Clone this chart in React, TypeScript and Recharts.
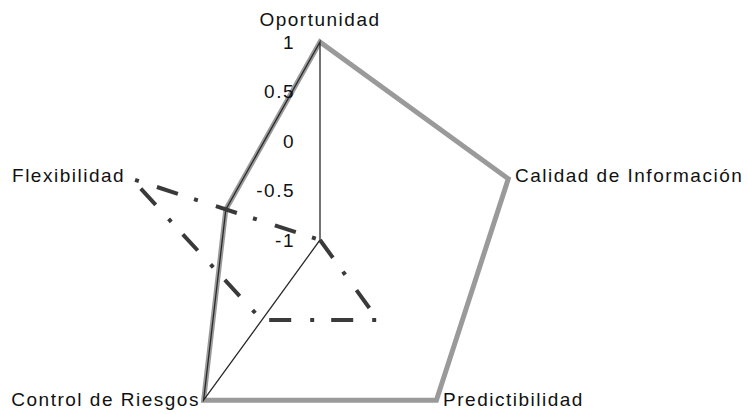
import { RadarChart, Radar, PolarAngleAxis, PolarRadiusAxis } from "recharts";

const categories = ["Oportunidad", "Calidad de Información", "Predictibilidad", "Control de Riesgos", "Flexibilidad"];
const serieBanda = [1, 1, 1, 1, 0];
const serieLinea = [1, -1, -1, 1, 0];
const serieTrazos = [-1, -1, 0, 0, 1];
const radiusTicks = [-1, -0.5, 0, 0.5, 1];

const data = categories.map((subject, i) => ({
  subject,
  banda: serieBanda[i],
  linea: serieLinea[i],
  trazos: serieTrazos[i],
}));

const FONT = "'Liberation Sans', Arial, sans-serif";

// label offsets per category, tuned against the printout
const angleOffsets = [
  { dx: 0, dy: -15 },
  { dx: -1, dy: -1 },
  { dx: 2, dy: -7 },
  { dx: 1, dy: -7 },
  { dx: 1, dy: -1 },
];

function AngleTick(props: any) {
  const { x, y, payload, textAnchor } = props;
  const off = angleOffsets[payload.index] || { dx: 0, dy: 0 };
  return (
    <text
      x={x + off.dx}
      y={y + off.dy}
      textAnchor={textAnchor}
      dominantBaseline="central"
      fontFamily={FONT}
      fontSize={19}
      letterSpacing={1.5}
      fill="#111"
    >
      {payload.value}
    </text>
  );
}

function RadiusTick(props: any) {
  const { x, y, payload } = props;
  return (
    <text
      x={x - 25}
      y={y}
      textAnchor="end"
      dominantBaseline="central"
      fontFamily={FONT}
      fontSize={19}
      letterSpacing={1.5}
      fill="#111"
    >
      {payload.value}
    </text>
  );
}

export default function App() {
  return (
    <div style={{ position: "absolute", left: 0, top: 0, width: 748, height: 414, background: "#fff" }}>
      <RadarChart
        width={748}
        height={414}
        data={data}
        cx={320}
        cy={240}
        outerRadius={198}
        margin={{ top: 0, right: 0, bottom: 0, left: 0 }}
      >
        <PolarAngleAxis dataKey="subject" tick={AngleTick} axisLine={false} tickLine={false} />
        <PolarRadiusAxis
          angle={90}
          type="number"
          domain={[-1, 1]}
          ticks={radiusTicks}
          tickCount={radiusTicks.length}
          axisLine={false}
          tickLine={false}
          tick={RadiusTick}
        />
        <Radar dataKey="banda" stroke="#9a9a9a" strokeWidth={5} fill="none" fillOpacity={0} dot={false} isAnimationActive={false} />
        <Radar dataKey="linea" stroke="#2a2a2a" strokeWidth={1.3} fill="none" fillOpacity={0} dot={false} isAnimationActive={false} />
        <Radar
          dataKey="trazos"
          stroke="#3a3a3a"
          strokeWidth={4}
          strokeDasharray="22 17 4 19"
          fill="none"
          fillOpacity={0}
          dot={false}
          isAnimationActive={false}
        />
      </RadarChart>
    </div>
  );
}
